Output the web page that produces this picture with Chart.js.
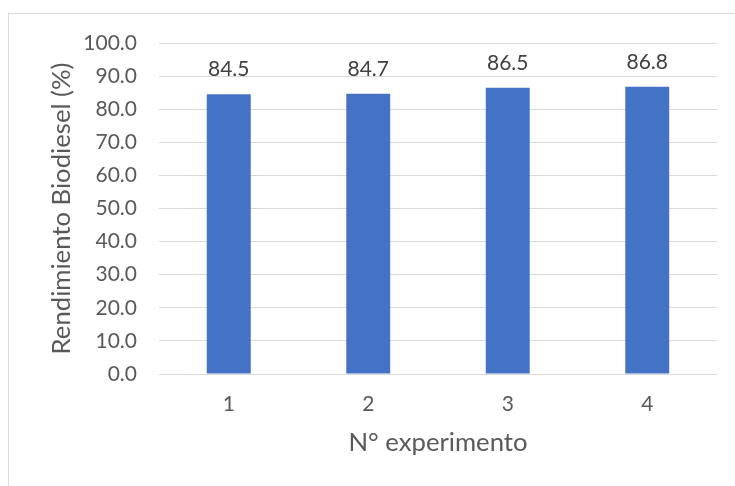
<!DOCTYPE html>
<html>
<head>
<meta charset="utf-8">
<script src="https://cdn.jsdelivr.net/npm/chart.js@4"></script>
<style>
  html, body { margin: 0; padding: 0; background: #ffffff; overflow: hidden; }
  #wrap { position: relative; width: 735px; height: 486px; }
  #frame { position: absolute; left: 8px; top: 13px; width: 800px; height: 600px; border: 1px solid #d9d9d9; box-sizing: border-box; }
  canvas { position: absolute; left: 0; top: 0; }
</style>
</head>
<body>
<div id="wrap">
  <div id="frame"></div>
  <canvas id="c" width="735" height="486"></canvas>
</div>
<script>
const categories = ["1", "2", "3", "4"];
const rendimiento = [84.5, 84.7, 86.5, 86.8];
const yTitle = "Rendimiento Biodiesel (%)";
const xTitle = "N° experimento";

const FONT = "Lato, 'Open Sans', sans-serif";

const dataLabels = {
  id: 'dataLabels',
  afterDatasetsDraw(chart) {
    const ctx = chart.ctx;
    ctx.save();
    ctx.font = "21px " + FONT;
    ctx.fillStyle = "#404040";
    ctx.textAlign = "center";
    ctx.textBaseline = "alphabetic";
    chart.getDatasetMeta(0).data.forEach((bar, i) => {
      ctx.fillText(rendimiento[i].toFixed(1), bar.x, bar.y - 18);
    });
    ctx.restore();
  }
};

new Chart(document.getElementById('c'), {
  type: 'bar',
  data: {
    labels: categories,
    datasets: [{
      data: rendimiento,
      backgroundColor: '#4472C4',
      borderWidth: 0,
      categoryPercentage: 1,
      barPercentage: 0.315
    }]
  },
  options: {
    responsive: false,
    animation: false,
    devicePixelRatio: 1,
    layout: { padding: { left: 0, right: 18, top: 43, bottom: 0 } },
    plugins: { legend: { display: false }, tooltip: { enabled: false } },
    scales: {
      x: {
        grid: { display: false, drawTicks: false },
        border: { display: false },
        ticks: { color: '#595959', font: { family: FONT, size: 21 }, padding: 18 },
        title: { display: true, text: xTitle, color: '#595959', font: { family: FONT, size: 25.7 }, padding: { top: 0, bottom: 28 } },
        afterFit(s) { s.height = 112; }
      },
      y: {
        min: 0, max: 100,
        grid: { color: '#d9d9d9', lineWidth: 1, drawTicks: false },
        border: { display: false },
        ticks: {
          stepSize: 10,
          color: '#595959',
          font: { family: FONT, size: 21 },
          padding: 22,
          callback: v => Number(v).toFixed(1)
        },
        title: { display: true, text: yTitle, color: '#595959', font: { family: FONT, size: 25.7 }, padding: { top: 46, bottom: 0 } },
        afterFit(s) { s.width = 159; }
      }
    }
  },
  plugins: [dataLabels]
});
</script>
</body>
</html>
